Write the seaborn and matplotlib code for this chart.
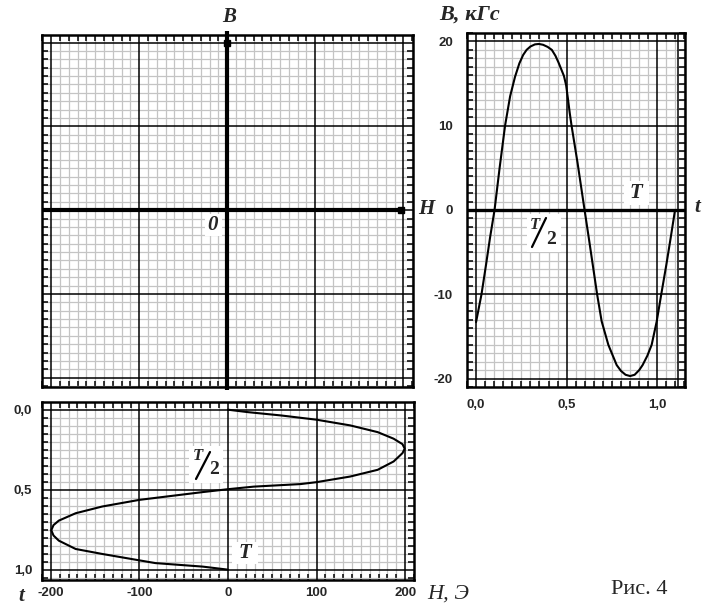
import matplotlib
matplotlib.use("Agg")
import matplotlib.pyplot as plt
import seaborn as sns
from matplotlib.ticker import MultipleLocator
from matplotlib.patches import Rectangle
from matplotlib.lines import Line2D

# B(t), right panel (t in periods, B in kGs)
t_b = [0.000, 0.030, 0.055, 0.077, 0.102, 0.130, 0.160, 0.188, 0.215, 0.239,
       0.260, 0.279, 0.300, 0.325, 0.347, 0.370, 0.395, 0.418, 0.438, 0.455,
       0.470, 0.485, 0.497, 0.507, 0.517, 0.527, 0.560, 0.596, 0.622, 0.668,
       0.693, 0.730, 0.776, 0.800, 0.825, 0.850, 0.875, 0.900, 0.919, 0.945,
       0.969, 0.997, 1.022, 1.050, 1.074, 1.098]
b_t = [-13.3, -10.0, -6.5, -3.3, 0.0, 5.0, 10.0, 13.5, 15.8, 17.4,
       18.4, 19.0, 19.4, 19.65, 19.7, 19.6, 19.35, 19.0, 18.3, 17.5,
       16.7, 15.9, 14.8, 13.2, 11.5, 10.0, 5.6, 0.4, -3.3, -10.0,
       -13.2, -16.0, -18.4, -19.1, -19.55, -19.7, -19.55, -19.0, -18.4, -17.3,
       -16.0, -13.2, -10.0, -6.5, -3.3, 0.0]

# H(t), bottom panel (H in Oe)
h_t = [0, 22, 60, 100, 138, 169, 187, 197, 199.5, 197, 187, 169, 138, 100, 82, 29, 0,
       -28.5, -100, -142, -172, -191, -197, -199.5, -197, -191, -172, -142, -100, -82, -28.5, 0]
t_h = [0.000, 0.015, 0.036, 0.0625, 0.098, 0.140, 0.181, 0.215, 0.243, 0.271, 0.323, 0.375,
       0.417, 0.452, 0.464, 0.480, 0.496,
       0.514, 0.5625, 0.604, 0.646, 0.692, 0.720, 0.752, 0.785, 0.817, 0.869, 0.900,
       0.940, 0.957, 0.979, 0.998]

b_ticks = [-20, -10, 0, 10, 20]
b_labels = ["-20", "-10", "0", "10", "20"]
t_ticks = [0.0, 0.5, 1.0]
t_labels = ["0,0", "0,5", "1,0"]
h_ticks = [-200, -100, 0, 100, 200]
h_labels = ["-200", "-100", "0", "100", "200"]

sns.set_style("white")
plt.rcParams["font.family"] = ["Liberation Sans", "DejaVu Sans"]

W, H = 710, 607
fig = plt.figure(figsize=(7.1, 6.07), dpi=100)


def box(l, t, r, b):
    return [l / W, 1 - b / H, (r - l) / W, (b - t) / H]


def px(x, y):
    return x / W, 1 - y / H


def paper(ax, xmaj, xmin, ymaj, ymin):
    # graph paper look: grey fine grid, black major lines, ticked frame
    ax.xaxis.set_major_locator(MultipleLocator(xmaj))
    ax.xaxis.set_minor_locator(MultipleLocator(xmin))
    ax.yaxis.set_major_locator(MultipleLocator(ymaj))
    ax.yaxis.set_minor_locator(MultipleLocator(ymin))
    ax.grid(which="minor", color="#c4c4c4", lw=0.9)
    ax.grid(which="major", visible=False)
    ax.set_axisbelow(True)
    x0, x1 = sorted(ax.get_xlim())
    y0, y1 = sorted(ax.get_ylim())
    # major lines drawn on top of the fine grid so they stay solid
    for v in MultipleLocator(xmaj).tick_values(x0, x1):
        if x0 < v < x1:
            ax.axvline(v, color="black", lw=1.1, zorder=1)
    for v in MultipleLocator(ymaj).tick_values(y0, y1):
        if y0 < v < y1:
            ax.axhline(v, color="black", lw=1.1, zorder=1)
    ax.tick_params(which="minor", direction="in", length=4, width=1.1,
                   top=True, right=True, bottom=True, left=True, color="black")
    ax.tick_params(which="major", length=0, top=True, right=True, bottom=True, left=True)
    for s in ax.spines.values():
        s.set_linewidth(1.8)
        s.set_color("black")


ax_bh = fig.add_axes(box(42, 35, 413, 387))
ax_bt = fig.add_axes(box(467, 33, 685, 387))
ax_ht = fig.add_axes(box(42, 402, 414, 580))

# B-H plane, empty
ax_bh.set_xlim(-210.5, 211)
ax_bh.set_ylim(-21.1, 20.9)
paper(ax_bh, 100, 10, 10, 1)
ax_bh.tick_params(labelbottom=False, labelleft=False)
ax_bh.plot([0, 0], [-21.4, 21.4], color="black", lw=3, clip_on=False,
           solid_capstyle="butt", zorder=3)
ax_bh.plot([-210.5, 197], [0, 0], color="black", lw=3, solid_capstyle="butt", zorder=3)
ax_bh.plot([197], [0], "s", color="black", ms=5, zorder=3)
ax_bh.plot([0], [20], "s", color="black", ms=5, zorder=3)

# B(t)
ax_bt.set_xlim(-0.05, 1.153)
ax_bt.set_ylim(-21, 21)
paper(ax_bt, 0.5, 0.05, 10, 1)
ax_bt.axhline(0, color="black", lw=2.4, zorder=1.5)
ax_bt.axvline(1.116, color="black", lw=1.1, zorder=1)
sns.lineplot(x=t_b, y=b_t, ax=ax_bt, color="black", lw=1.5, sort=False,
             estimator=None, zorder=3)
ax_bt.set_xticks(t_ticks, t_labels, fontsize=9.5, fontweight="bold")
ax_bt.set_yticks(b_ticks, b_labels, fontsize=9.5, fontweight="bold")
ax_bt.tick_params(axis="x", which="major", pad=9)
ax_bt.tick_params(axis="y", which="major", pad=10)

# H(t)
ax_ht.set_xlim(-210, 210)
ax_ht.set_ylim(1.0625, -0.048)
paper(ax_ht, 100, 10, 0.5, 0.05)
sns.lineplot(x=h_t, y=t_h, ax=ax_ht, color="black", lw=1.5, sort=False,
             estimator=None, zorder=3)
ax_ht.set_xticks(h_ticks, h_labels, fontsize=9.5, fontweight="bold")
ax_ht.set_yticks(t_ticks, t_labels, fontsize=9.5, fontweight="bold")
ax_ht.tick_params(axis="x", which="major", pad=5)
ax_ht.tick_params(axis="y", which="major", pad=7)

serif = "Liberation Serif"


def white_box(bg):
    l, t, r, b = bg
    fig.patches.append(Rectangle((l / W, 1 - b / H), (r - l) / W, (b - t) / H,
                                 transform=fig.transFigure, facecolor="white",
                                 edgecolor="none", zorder=5))


def label(x, y, s, size=15, weight="bold", style="italic", bg=None):
    if bg is not None:
        white_box(bg)
    fig.text(*px(x, y), s, ha="center", va="center", family=serif,
             fontsize=size, fontweight=weight, style=style, zorder=6)


def half_period(bg, tpos, slash, twopos):
    white_box(bg)
    fig.text(*px(*tpos), "T", ha="center", va="center", family=serif,
             fontsize=12, fontweight="bold", style="italic", zorder=6)
    (x0, y0), (x1, y1) = slash
    fig.add_artist(Line2D([x0 / W, x1 / W], [1 - y0 / H, 1 - y1 / H],
                          transform=fig.transFigure, color="black", lw=1.6, zorder=6))
    fig.text(*px(*twopos), "2", ha="center", va="center", family=serif,
             fontsize=14, fontweight="bold", zorder=6)


label(229, 17, "B", size=15)
label(426, 209, "H", size=15)
label(213, 225, "0", size=15, bg=(205, 214, 222, 236))
label(470, 15, "B, кГс", size=16)
label(697, 207, "t", size=15)
label(636, 193, "T", size=15, bg=(624, 181, 649, 205))
half_period((527, 214, 561, 252), (535, 225), ((532, 247), (546, 218)), (551, 240))
half_period((189, 446, 223, 483), (198, 456), ((196, 479), (210, 452)), (214, 470))
label(245, 553, "T", size=15, bg=(232, 542, 258, 564))
label(21, 596, "t", size=15)
label(448, 594, "H, Э", size=16, weight="normal")
label(639, 590, "Рис. 4", size=16, weight="normal", style="normal")

fig.savefig("out.png", dpi=100, facecolor="white")
